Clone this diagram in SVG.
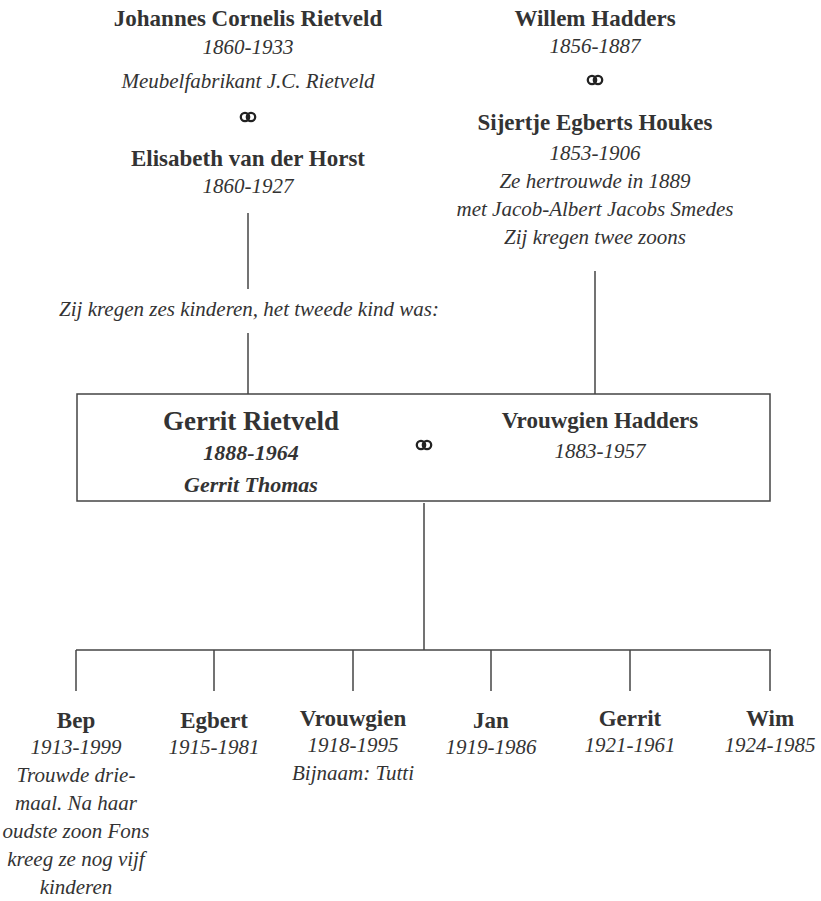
<svg xmlns="http://www.w3.org/2000/svg" xmlns:xlink="http://www.w3.org/1999/xlink" width="821" height="901" viewBox="0 0 821 901">
<style>
text{font-family:"Liberation Serif","DejaVu Serif",serif;fill:#333;text-anchor:middle}
.n{font-weight:bold;font-size:23px}
.d{font-style:italic;font-size:21px}
.big{font-weight:bold;font-size:27px}
.bi{font-weight:bold;font-style:italic;font-size:22px}
.ln{stroke:#444;stroke-width:1.5;fill:none}
</style>
<defs>
<g id="rings" fill="none" stroke="#222" stroke-width="2.3">
<circle cx="-3" cy="0" r="4.2"/>
<circle cx="3" cy="0" r="4.2"/>
</g>
</defs>
<rect width="821" height="901" fill="#fff"/>
<g id="connectors" class="ln">
<line x1="248" y1="213" x2="248" y2="289"/>
<line x1="248" y1="333" x2="248" y2="394"/>
<line x1="595" y1="271" x2="595" y2="394"/>
<line x1="424" y1="503" x2="424" y2="650"/>
<line x1="76" y1="650" x2="771" y2="650"/>
<line x1="76" y1="650" x2="76" y2="691"/>
<line x1="214" y1="650" x2="214" y2="691"/>
<line x1="353" y1="650" x2="353" y2="691"/>
<line x1="491" y1="650" x2="491" y2="691"/>
<line x1="630" y1="650" x2="630" y2="691"/>
<line x1="770" y1="650" x2="770" y2="691"/>
</g>
<g id="rietveld-parents">
<text class="n" x="248" y="26">Johannes Cornelis Rietveld</text>
<text class="d" x="248" y="54">1860-1933</text>
<text class="d" x="248" y="88">Meubelfabrikant J.C. Rietveld</text>
<use xlink:href="#rings" x="248" y="117"/>
<text class="n" x="248" y="166">Elisabeth van der Horst</text>
<text class="d" x="248" y="193">1860-1927</text>
</g>
<g id="hadders-parents">
<text class="n" x="595" y="26">Willem Hadders</text>
<text class="d" x="595" y="53">1856-1887</text>
<use xlink:href="#rings" x="595" y="80"/>
<text class="n" x="595" y="130">Sijertje Egberts Houkes</text>
<text class="d" x="595" y="160">1853-1906</text>
<text class="d" x="595" y="188">Ze hertrouwde in 1889</text>
<text class="d" x="595" y="216">met Jacob-Albert Jacobs Smedes</text>
<text class="d" x="595" y="244">Zij kregen twee zoons</text>
</g>
<g id="note">
<text class="d" x="249" y="316">Zij kregen zes kinderen, het tweede kind was:</text>
</g>
<g id="couple">
<rect x="77" y="394" width="693" height="107" class="ln"/>
<text class="big" x="251" y="430">Gerrit Rietveld</text>
<text class="bi" x="251" y="460">1888-1964</text>
<text class="bi" x="251" y="492">Gerrit Thomas</text>
<use xlink:href="#rings" x="424" y="445"/>
<text class="n" x="600" y="428">Vrouwgien Hadders</text>
<text class="d" x="600" y="458">1883-1957</text>
</g>
<g id="child-bep">
<text class="n" x="76" y="728">Bep</text>
<text class="d" x="76" y="754">1913-1999</text>
<text class="d" x="76" y="782">Trouwde drie-</text>
<text class="d" x="76" y="810">maal. Na haar</text>
<text class="d" x="76" y="838">oudste zoon Fons</text>
<text class="d" x="76" y="866">kreeg ze nog vijf</text>
<text class="d" x="76" y="894">kinderen</text>
</g>
<g id="child-egbert">
<text class="n" x="214" y="728">Egbert</text>
<text class="d" x="214" y="754">1915-1981</text>
</g>
<g id="child-vrouwgien">
<text class="n" x="353" y="726">Vrouwgien</text>
<text class="d" x="353" y="752">1918-1995</text>
<text class="d" x="353" y="780">Bijnaam: Tutti</text>
</g>
<g id="child-jan">
<text class="n" x="491" y="728">Jan</text>
<text class="d" x="491" y="754">1919-1986</text>
</g>
<g id="child-gerrit">
<text class="n" x="630" y="726">Gerrit</text>
<text class="d" x="630" y="752">1921-1961</text>
</g>
<g id="child-wim">
<text class="n" x="770" y="726">Wim</text>
<text class="d" x="770" y="752">1924-1985</text>
</g>
</svg>
